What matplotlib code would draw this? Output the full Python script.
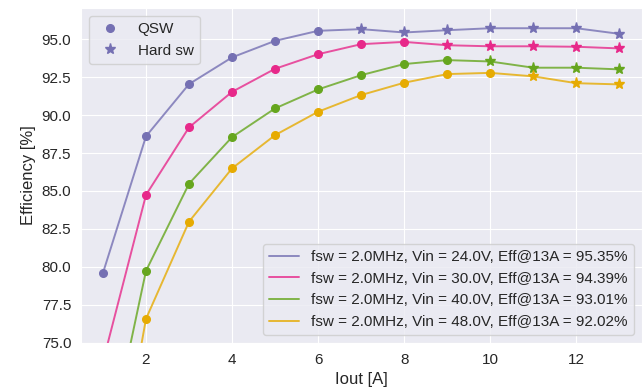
import numpy as np
import matplotlib.pyplot as plt
import seaborn as sns

sns.set_style('darkgrid')
plt.rcParams['font.family'] = ['Liberation Sans', 'DejaVu Sans']

iout = [1, 2, 3, 4, 5, 6, 7, 8, 9, 10, 11, 12, 13]
vin = [24.0, 30.0, 40.0, 48.0]
fsw = 2.0

eff_24 = [79.6, 88.6, 92.04, 93.8, 94.89, 95.55, 95.66, 95.44, 95.59, 95.72, 95.72, 95.72, 95.35]
eff_30 = [73.75, 84.74, 89.19, 91.53, 93.05, 94.01, 94.67, 94.82, 94.6, 94.53, 94.53, 94.5, 94.39]
eff_40 = [66.4, 79.74, 85.48, 88.55, 90.44, 91.69, 92.63, 93.36, 93.62, 93.53, 93.12, 93.12, 93.01]
eff_48 = [60.8, 76.58, 82.98, 86.49, 88.68, 90.22, 91.32, 92.13, 92.7, 92.78, 92.55, 92.1, 92.02]
effs = [eff_24, eff_30, eff_40, eff_48]

# last current (A) still running QSW, above that it is hard switching
qsw_max = [6, 8, 9, 10]

colors = ['#7570b3', '#e7298a', '#66a61e', '#e6ab02']

fig, ax = plt.subplots(figsize=(6.43, 3.9), dpi=100)

lines = []
for v, eff, qmax, c in zip(vin, effs, qsw_max, colors):
    x = np.array(iout)
    y = np.array(eff)
    l, = ax.plot(x, y, '-', color=c, lw=1.4, alpha=0.8,
                 label='fsw = %.1fMHz, Vin = %.1fV, Eff@13A = %.2f%%' % (fsw, v, eff[-1]))
    lines.append(l)
    q = x <= qmax
    ax.plot(x[q], y[q], 'o', color=c, ms=5.5)
    ax.plot(x[~q], y[~q], '*', color=c, ms=8)

leg1 = ax.legend(handles=lines, loc='lower right', fontsize=11, handlelength=2.0)
ax.add_artist(leg1)
h_qsw, = ax.plot([], [], 'o', color=colors[0], ms=5.5, label='QSW')
h_hard, = ax.plot([], [], '*', color=colors[0], ms=8, label='Hard sw')
ax.legend(handles=[h_qsw, h_hard], loc='upper left', fontsize=11)

ax.set_xlim(0.49, 13.52)
ax.set_ylim(75, 97.04)
ax.set_xticks([2, 4, 6, 8, 10, 12])
ax.tick_params(labelsize=11)
ax.set_xlabel('Iout [A]', fontsize=12)
ax.set_ylabel('Efficiency [%]', fontsize=12)

fig.subplots_adjust(left=0.126, right=0.998, top=0.979, bottom=0.121)
fig.savefig('out.png')
